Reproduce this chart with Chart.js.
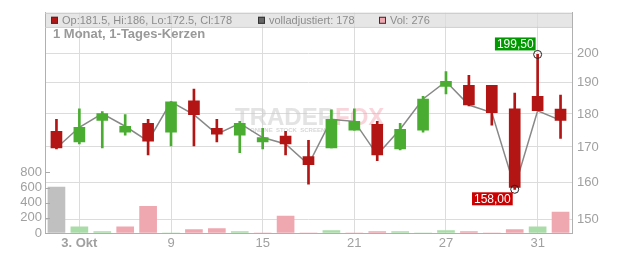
<!DOCTYPE html>
<html lang="de">
<head>
  <meta charset="UTF-8">
  <title>1 Monat, 1-Tages-Kerzen</title>
  <script src="https://cdn.jsdelivr.net/npm/chart.js"></script>
  <style>
    body { margin: 0; background: #fff; }
    #wrap { width: 632px; height: 253px; }
  </style>
</head>
<body>
  <div id="wrap"><canvas id="chart" width="632" height="253"></canvas></div>

  <script>
    // Tage (Handelstage), nur einige werden beschriftet
    const days = ['2','3. Okt','4','5','6','9','10','11','12','15','16','17','18','21','22','23','24','27','28','29','30','31','1'];
    const shownDays = ['3. Okt','9','15','21','27','31'];

    const opens  = [174.7,171.5,178.0,174.4,177.1,174.4,184.1,175.6,173.5,171.5,173.2,167.2,169.7,175.0,176.8,169.4,175.0,188.8,189.1,189.1,181.6,185.6,181.5];
    const highs  = [178.3,181.6,180.7,179.8,178.3,183.8,187.9,178.3,177.7,175.6,174.7,172.0,181.3,181.6,177.7,177.1,185.6,193.7,192.4,189.1,186.6,199.5,186.0];
    const lows   = [169.4,170.9,169.7,173.5,167.7,170.3,170.3,171.5,168.3,169.4,167.7,159.4,169.7,175.0,166.0,169.1,174.4,186.3,182.5,176.5,158.0,181.0,172.5];
    const closes = [169.7,175.9,180.1,176.2,171.7,183.8,179.8,173.8,177.1,172.8,170.9,164.9,178.3,177.7,167.7,175.3,184.7,190.4,182.8,180.4,158.5,181.0,178.0];
    const volumes = [608,82,18,82,353,0,44,57,18,0,224,0,31,0,18,18,0,31,18,0,44,82,276];

    const priceTicks = [150,160,170,180,190,200];
    const volTicks = [0,200,400,600,800];

    const RED = '#b31515', GREEN = '#4aad32';
    const candleCol = opens.map((o, i) => closes[i] >= o ? GREEN : RED);
    const volCol = volumes.map((v, i) => i === 0 ? '#c0c0c0' : (closes[i] >= closes[i - 1] ? '#a9dca8' : '#efa7b0'));

    // Extrempunkte
    const hiIdx = highs.indexOf(Math.max(...highs));
    const loIdx = lows.indexOf(Math.min(...lows));
    const marks = days.map((d, i) => i === hiIdx ? highs[i] : (i === loIdx ? lows[i] : null));

    const FONT = "'Liberation Sans', Arial, sans-serif";

    const deco = {
      id: 'deco',
      beforeDraw(chart) {
        const { ctx, chartArea: a } = chart;
        ctx.save();
        ctx.fillStyle = '#e6e6e6';
        ctx.fillRect(a.left, a.top, a.right - a.left, 14);
        ctx.restore();
      },
      beforeDatasetsDraw(chart) {
        const { ctx } = chart;
        ctx.save();
        // Wasserzeichen
        ctx.font = 'bold 24px ' + FONT;
        ctx.textBaseline = 'alphabetic';
        ctx.fillStyle = 'rgba(200,200,200,0.5)';
        ctx.fillText('TRADER', 235, 125);
        const w = ctx.measureText('TRADER').width;
        ctx.fillStyle = 'rgba(240,150,165,0.4)';
        ctx.fillText('FOX', 235 + w, 125);
        ctx.font = 'bold 6px ' + FONT;
        ctx.fillStyle = 'rgba(180,180,180,0.55)';
        ctx.fillText('ONLINE  STOCK  SCREENING', 250, 132);
        ctx.restore();
      },
      afterDraw(chart) {
        const { ctx, chartArea: a, scales } = chart;
        ctx.save();
        // Band-Rahmen
        ctx.strokeStyle = '#c8c8c8';
        ctx.lineWidth = 1;
        ctx.beginPath();
        ctx.moveTo(a.left, a.top + 0.5); ctx.lineTo(a.right, a.top + 0.5);
        ctx.moveTo(a.left, a.top + 14.5); ctx.lineTo(a.right, a.top + 14.5);
        ctx.stroke();

        // Legende
        ctx.font = '11px ' + FONT;
        ctx.textBaseline = 'middle';
        const ly = a.top + 7.5;
        const items = [
          [51, RED, 'Op:' + opens[22] + ', Hi:' + highs[22] + ', Lo:' + lows[22] + ', Cl:' + closes[22]],
          [258, '#666', 'volladjustiert: ' + closes[22]],
          [379, '#efa7b0', 'Vol: ' + volumes[22]]
        ];
        items.forEach(([x, c, t]) => {
          ctx.fillStyle = c;
          ctx.fillRect(x, ly - 3.5, 7, 7);
          ctx.strokeStyle = '#333';
          ctx.strokeRect(x + 0.5, ly - 3, 6, 6);
          ctx.fillStyle = '#8c8c8c';
          ctx.fillText(t, x + 11, ly + 0.5);
        });

        // Titel
        ctx.font = 'bold 13px ' + FONT;
        ctx.fillStyle = '#999';
        ctx.fillText('1 Monat, 1-Tages-Kerzen', 53, 34);

        // Tick-Striche der Volumenachse (nach innen)
        const v = scales.vol;
        ctx.strokeStyle = '#aaa';
        ctx.beginPath();
        volTicks.forEach(t => {
          const y = Math.round(v.getPixelForValue(t)) + 0.5;
          ctx.moveTo(a.left, y); ctx.lineTo(a.left + 5, y);
        });
        ctx.stroke();

        // Hoch/Tief Beschriftungen
        const box = (idx, val, col, above) => {
          const px = scales.x.getPixelForValue(idx);
          const py = scales.y.getPixelForValue(val);
          const txt = val.toFixed(2).replace('.', ',');
          ctx.font = '12px ' + FONT;
          const tw = ctx.measureText(txt).width + 4;
          const bx = px - 2 - tw;
          const by = above ? py - 17 : py + 3;
          ctx.fillStyle = col;
          ctx.fillRect(bx, by, tw, 13);
          ctx.fillStyle = '#fff';
          ctx.textBaseline = 'middle';
          ctx.fillText(txt, bx + 2, by + 7);
        };
        box(hiIdx, highs[hiIdx], '#009a00', true);
        box(loIdx, lows[loIdx], '#cc0000', false);
        ctx.restore();
      }
    };

    new Chart(document.getElementById('chart'), {
      data: {
        labels: days,
        datasets: [
          {
            type: 'line', label: 'marks', data: marks, yAxisID: 'y',
            showLine: false, pointRadius: 4, pointBorderWidth: 1,
            pointBorderColor: '#222', pointBackgroundColor: 'rgba(255,255,255,0)', order: 0
          },
          {
            type: 'bar', label: 'body', data: opens.map((o, i) => [o, closes[i]]), yAxisID: 'y',
            backgroundColor: candleCol, barThickness: 11, grouped: false, minBarLength: 1, order: 1
          },
          {
            type: 'bar', label: 'wick', data: lows.map((l, i) => [l, highs[i]]), yAxisID: 'y',
            backgroundColor: candleCol, barThickness: 2, grouped: false, order: 2
          },
          {
            type: 'line', label: 'close', data: closes, yAxisID: 'y',
            borderColor: '#888', borderWidth: 1.5, pointRadius: 0, tension: 0, order: 3
          },
          {
            type: 'bar', label: 'vol', data: volumes, yAxisID: 'vol',
            backgroundColor: volCol, barThickness: 17, grouped: false, order: 5
          }
        ]
      },
      options: {
        responsive: false,
        animation: false,
        layout: { padding: { top: 8 } },
        plugins: { legend: { display: false }, tooltip: { enabled: false } },
        scales: {
          x: {
            type: 'category',
            offset: true,
            afterFit: s => { s.height = 20; },
            grid: {
              offset: false,
              drawTicks: false,
              color: c => shownDays.includes(days[c.index]) ? '#dcdcdc' : 'rgba(0,0,0,0)'
            },
            border: { color: '#b0b0b0' },
            ticks: {
              autoSkip: false, maxRotation: 0, padding: 3, color: '#a0a0a0',
              font: c => ({ family: FONT, size: 13, weight: days[c.index] === '3. Okt' ? 'bold' : 'normal' }),
              callback: (v, i) => shownDays.includes(days[i]) ? days[i] : ''
            }
          },
          y: {
            type: 'logarithmic',
            position: 'right',
            min: 146.5, max: 214.4,
            afterFit: s => { s.width = 60; },
            afterBuildTicks: s => { s.ticks = priceTicks.map(v => ({ value: v })); },
            grid: { color: '#dcdcdc', drawTicks: false },
            border: { color: '#b0b0b0' },
            ticks: { padding: 5, color: '#a0a0a0', font: { family: FONT, size: 13 }, callback: v => String(v) }
          },
          vol: {
            type: 'linear',
            position: 'left',
            min: 0, max: 2910,
            afterFit: s => { s.width = 45; },
            afterBuildTicks: s => { s.ticks = volTicks.map(v => ({ value: v })); },
            grid: { drawOnChartArea: false, drawTicks: false },
            border: { color: '#b0b0b0' },
            ticks: { padding: 3, color: '#a0a0a0', font: { family: FONT, size: 13 }, callback: v => String(v) }
          }
        }
      },
      plugins: [deco]
    });
  </script>
</body>
</html>
